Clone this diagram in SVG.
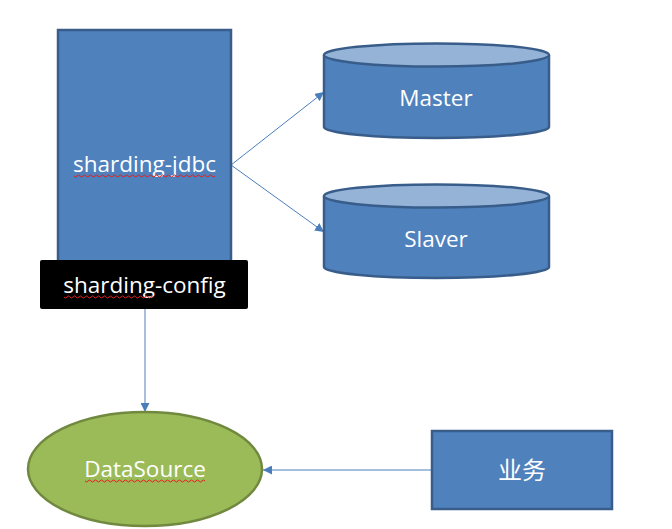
<svg xmlns="http://www.w3.org/2000/svg" width="672" height="529" viewBox="0 0 672 529">
<style>
.blue{fill:#4f81bd;stroke:#385d8a;stroke-width:2.5}
.top{fill:#95b3d7;stroke:#385d8a;stroke-width:2.5}
.lbl{font-family:"Open Sans","Liberation Sans","Noto Sans CJK SC",sans-serif;font-size:22.5px;fill:#ffffff;text-anchor:middle;dominant-baseline:central}
.cjk{font-size:24px}
.conn{stroke:#4a7ebb;stroke-width:1;fill:none}
.sq{stroke:#e02020;stroke-width:1;fill:none}
</style>
<defs>
<marker id="ah" viewBox="0 0 10 10" refX="10" refY="5" markerWidth="9" markerHeight="9" markerUnits="userSpaceOnUse" orient="auto">
<path d="M0,0 L10,5 L0,10 z" fill="#4a7ebb"/>
</marker>
</defs>
<rect width="672" height="529" fill="#ffffff"/>
<g id="connectors">
<line class="conn" x1="231" y1="165" x2="324" y2="92" marker-end="url(#ah)"/>
<line class="conn" x1="231" y1="165" x2="324" y2="232" marker-end="url(#ah)"/>
<line class="conn" x1="145" y1="309" x2="145" y2="412" marker-end="url(#ah)"/>
<line class="conn" x1="432" y1="470" x2="263" y2="470" marker-end="url(#ah)"/>
</g>
<g id="sharding-jdbc">
<rect class="blue" x="58" y="30" width="173" height="240"/>
<text class="lbl" x="144.5" y="163">sharding-jdbc</text>
<path class="sq" d="M74,176 q1.5,2 3,0 t3,0 t3,0 t3,0 t3,0 t3,0 t3,0 t3,0 t3,0 t3,0 t3,0 t3,0 t3,0 t3,0 t3,0 t3,0 t3,0 t3,0 t3,0 t3,0 t3,0 t3,0 t3,0 t3,0 t3,0 t3,0 t3,0 t3,0 t3,0 t3,0 t3,0 t3,0 t3,0 t3,0 t3,0 t3,0 t3,0 t3,0 t3,0 t3,0 t3,0 t3,0 t3,0 t3,0 t3,0 t3,0 t3,0"/>
</g>
<g id="sharding-config">
<rect x="40" y="260" width="208" height="49" rx="2" fill="#000000"/>
<text class="lbl" x="144.5" y="284">sharding-config</text>
<path class="sq" d="M64,297 q1.5,2 3,0 t3,0 t3,0 t3,0 t3,0 t3,0 t3,0 t3,0 t3,0 t3,0 t3,0 t3,0 t3,0 t3,0 t3,0 t3,0 t3,0 t3,0 t3,0 t3,0 t3,0 t3,0 t3,0 t3,0 t3,0 t3,0 t3,0 t3,0 t3,0 t3,0"/>
</g>
<g id="master">
<path class="blue" d="M324,55 L324,127 A112.5,11 0 0 0 549,127 L549,55"/>
<ellipse class="top" cx="436.5" cy="55" rx="112.5" ry="11.5"/>
<text class="lbl" x="436" y="97">Master</text>
</g>
<g id="slaver">
<path class="blue" d="M324,196 L324,267 A112.5,11 0 0 0 549,267 L549,196"/>
<ellipse class="top" cx="436.5" cy="196" rx="112.5" ry="11.5"/>
<text class="lbl" x="436" y="238">Slaver</text>
</g>
<g id="datasource">
<ellipse cx="145" cy="469" rx="117" ry="57" fill="#9bbb59" stroke="#71893f" stroke-width="2.5"/>
<text class="lbl" x="145" y="468">DataSource</text>
<path class="sq" d="M85,481 q1.5,2 3,0 t3,0 t3,0 t3,0 t3,0 t3,0 t3,0 t3,0 t3,0 t3,0 t3,0 t3,0 t3,0 t3,0 t3,0 t3,0 t3,0 t3,0 t3,0 t3,0 t3,0 t3,0 t3,0 t3,0 t3,0 t3,0 t3,0 t3,0 t3,0 t3,0 t3,0 t3,0 t3,0 t3,0 t3,0 t3,0 t3,0 t3,0 t3,0 t3,0"/>
</g>
<g id="yewu">
<rect class="blue" x="432" y="431" width="180" height="78"/>
<text class="lbl cjk" x="522" y="469">业务</text>
</g>
</svg>
